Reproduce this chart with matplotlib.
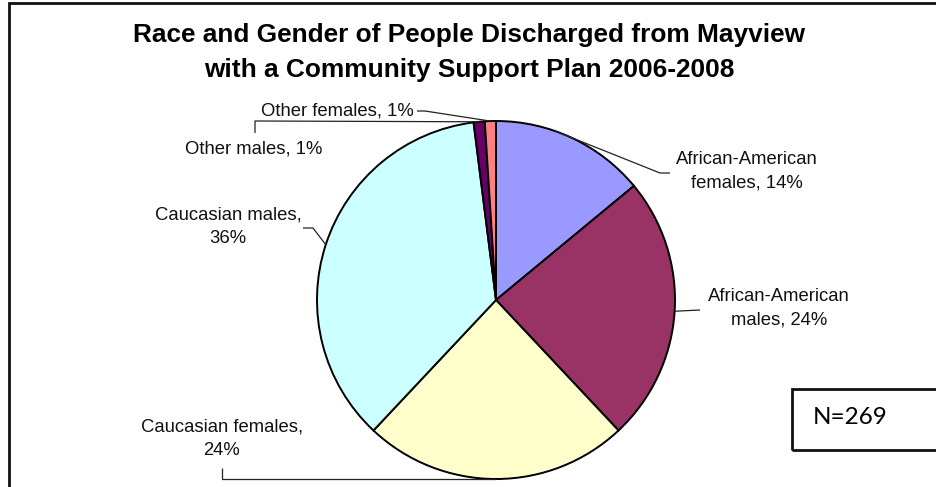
import matplotlib
matplotlib.use("Agg")
import matplotlib.pyplot as plt
from matplotlib.patches import Rectangle
import numpy as np

# ---- data ----
categories = ["African-American females", "African-American males", "Caucasian females",
              "Caucasian males", "Other males", "Other females"]
percents = [14, 24, 24, 36, 1, 1]
colors = ["#9999FF", "#993366", "#FFFFCC", "#CCFFFF", "#660066", "#FF8080"]
title_lines = ["Race and Gender of People Discharged from Mayview",
               "with a Community Support Plan 2006-2008"]
note_text = "N=269"

W, H = 937, 487
def Y(py):
    return H - py

fig = plt.figure(figsize=(W / 100, H / 100), dpi=100)
ax = fig.add_axes([0, 0, 1, 1])

CX, CY, R = 496, 300, 179
wedges, _ = ax.pie(percents, colors=colors, startangle=90, counterclock=False,
                   center=(CX, Y(CY)), radius=R,
                   wedgeprops=dict(edgecolor="black", linewidth=1.4))
ax.set_xlim(0, W)
ax.set_ylim(0, H)
ax.set_aspect("equal")
ax.axis("off")

font = ["Liberation Sans", "DejaVu Sans"]
lab_fs = 13.3

# label layout: (format, text centre px, leader path px after anchor, anchor position in wedge)
layout = [
    ("{c0}\n{c1}, {p}%", (747, 171), [(660, 173), (670, 173)], 0.62),
    ("{c0}\n{c1}, {p}%", (779, 308), [(700, 310)], 0.5),
    ("{c0} {c1},\n{p}%", (222, 439), [(222, 479), (222, 468)], 0.5),
    ("{c0} {c1},\n{p}%", (228, 227), [(313, 228), (303, 228)], 0.5),
    ("{c0} {c1}, {p}%", (254, 149), [(255, 121), (255, 133)], 0.5),
    ("{c0} {c1}, {p}%", (337, 111), [(425, 111), (417, 111)], 0.5),
]

for w, cat, p, (fmt, (tx, ty), path, frac) in zip(wedges, categories, percents, layout):
    c0, c1 = cat.rsplit(" ", 1)
    ang = np.deg2rad(w.theta1 + (w.theta2 - w.theta1) * frac)
    ax_x = CX + R * np.cos(ang)
    ax_y = Y(CY) + R * np.sin(ang)
    xs = [ax_x] + [q[0] for q in path]
    ys = [ax_y] + [Y(q[1]) for q in path]
    ax.plot(xs, ys, color="#222222", lw=0.9, solid_capstyle="butt")
    ax.text(tx, Y(ty), fmt.format(c0=c0, c1=c1, p=p), ha="center", va="center",
            fontsize=lab_fs, family=font, linespacing=1.5, color="#111111")

# title
ax.text(469, Y(42), title_lines[0], ha="center", va="baseline", fontsize=18.9,
        fontweight="bold", family=font)
ax.text(469, Y(77), title_lines[1], ha="center", va="baseline", fontsize=18.9,
        fontweight="bold", family=font)

# outer border
ax.add_patch(Rectangle((9, Y(500)), 950, 497, fill=False, edgecolor="#111111",
                       lw=2, clip_on=False))
# N box
ax.add_patch(Rectangle((792, Y(450)), 150, 61, fill=False, edgecolor="#111111",
                       lw=2, clip_on=False))
ax.text(813, Y(418), note_text, ha="left", va="center", fontsize=17.5,
        family=["Lato", "DejaVu Sans"])

fig.savefig("out.png", dpi=100)
